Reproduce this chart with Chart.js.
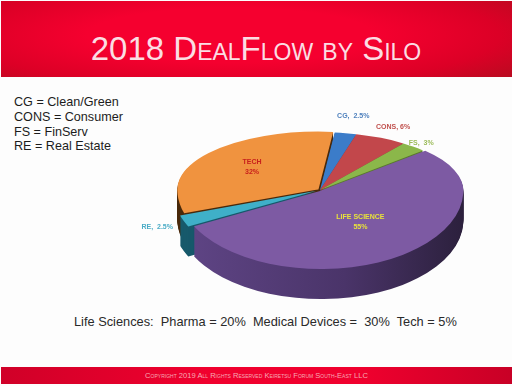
<!DOCTYPE html>
<html>
<head>
<meta charset="utf-8">
<script src="https://cdn.jsdelivr.net/npm/chart.js@4"></script>
<style>
  html, body { margin: 0; padding: 0; background: #fff; }
  #page { position: relative; width: 512px; height: 386px; overflow: hidden; font-family: "Liberation Sans", Arial, sans-serif; background: #fdfdfd; filter: blur(0.4px); }
  #banner { position: absolute; left: 1px; top: 1px; width: 511px; height: 76px; background: radial-gradient(ellipse 70% 90% at 45% 45%, #f5002f 40%, #dc0026 75%, #b80b20 100%); }
  #title { position: absolute; left: 0; top: 30px; width: 512px; text-align: center; font-size: 33px; line-height: 38px; color: #fbdde3; font-variant: small-caps; }
  #legend { position: absolute; left: 14px; top: 95px; font-size: 12.6px; line-height: 14.8px; color: #1c1c1c; }
  #note { position: absolute; left: 74px; top: 314px; font-size: 12.8px; line-height: 16px; color: #2a2a2a; white-space: pre; }
  #footer { position: absolute; left: 1px; top: 367px; width: 511px; height: 17px; background: linear-gradient(90deg, #d00028, #f0002e 40%, #f0002e 70%, #c80026); text-align: center; font-size: 7.6px; line-height: 17px; color: #f7a9b4; font-variant: small-caps; }
  canvas { position: absolute; left: 0; top: 0; }
</style>
</head>
<body>
<div id="page">
  <div id="banner"></div>
  <div id="title">2018 DealFlow by Silo</div>
  <div id="legend">CG = Clean/Green<br>CONS = Consumer<br>FS = FinServ<br>RE = Real Estate</div>
  <div id="note">Life Sciences:  Pharma = 20%  Medical Devices =  30%  Tech = 5%</div>
  <div id="footer">Copyright 2019 All Rights Reserved  Keiretsu Forum South-East LLC</div>
  <canvas id="grafica" width="512" height="386"></canvas>
</div>
<script>
// Datos
const categorias = ['CG', 'CONS', 'FS', 'LIFE SCIENCE', 'RE', 'TECH'];
const valores = [2.5, 6, 3, 55, 2.5, 32];
const etiquetas = ['CG,  2.5%', 'CONS, 6%', 'FS,  3%', 'LIFE SCIENCE|55%', 'RE,  2.5%', 'TECH|32%'];

// Estilo
const colores = ['#3b7cc9', '#c2474b', '#8bb74a', '#7d5aa3', '#3fb0c8', '#f0933f'];
const coloresLado = ['#26508a', '#7e2c30', '#5a7a2e', '#4d3770', '#17596b', '#4a2a0c'];
const coloresTexto = ['#4f81bd', '#c0504d', '#9bbb59', '#e8e23a', '#4bacc6', '#c8201c'];
const separacion = [0, 0, 0, 6, 14, 8];
// distancia de cada etiqueta al centro, relativa al radio
const distanciaEtiqueta = [1.3, 1.2, 1.08, 0.5, 1.25, 0.62];

const RADIO = 141;
const ELIPSE_ATRAS = 0.41;   // mitad de atras, mas plana por la perspectiva
const ELIPSE_FRENTE = 0.55;  // mitad de adelante
const PROFUNDIDAD = 30;

// Recorta una mitad (atras o frente) y deja el contexto aplastado
function aplicarMitad(ctx, cx, cy, d, frente) {
    ctx.beginPath();
    if (frente) ctx.rect(0, cy + d, 512, 386);
    else ctx.rect(0, 0, 512, cy + d);
    ctx.clip();
    ctx.translate(cx, cy + d);
    ctx.scale(1, frente ? ELIPSE_FRENTE : ELIPSE_ATRAS);
    ctx.translate(-cx, -cy);
}

// Dibuja el costado, la mitad de atras, y deja la de adelante a Chart.js
const pastel3d = {
    id: 'pastel3d',
    beforeDatasetsDraw(chart) {
        const ctx = chart.ctx;
        const arcos = chart.getDatasetMeta(0).data;
        const cx = arcos[0].x, cy = arcos[0].y;

        const ladoMorado = ctx.createLinearGradient(190, 0, 470, 0);
        ladoMorado.addColorStop(0, '#5e4484');
        ladoMorado.addColorStop(0.55, '#4a3469');
        ladoMorado.addColorStop(1, '#2a1f3a');

        const orden = [5, 0, 1, 2, 4, 3];
        for (let d = PROFUNDIDAD; d >= 1; d--) {
            [false, true].forEach(frente => {
                ctx.save();
                aplicarMitad(ctx, cx, cy, d, frente);
                orden.forEach(i => {
                    const lado = Object.create(arcos[i]);
                    lado.options = Object.assign({}, arcos[i].options, {
                        backgroundColor: i === 3 ? ladoMorado : coloresLado[i],
                        borderWidth: 0
                    });
                    lado.draw(ctx);
                });
                ctx.restore();
            });
        }

        ctx.save();
        aplicarMitad(ctx, cx, cy, 0, false);
        arcos.forEach(arco => arco.draw(ctx));
        ctx.restore();

        ctx.save();
        aplicarMitad(ctx, cx, cy, 0, true);
    },
    afterDatasetsDraw(chart) {
        const ctx = chart.ctx;
        ctx.restore();

        const arcos = chart.getDatasetMeta(0).data;
        ctx.save();
        ctx.textAlign = 'center';
        ctx.textBaseline = 'middle';
        ctx.font = 'bold 7px "Liberation Sans", Arial, sans-serif';
        arcos.forEach((arco, i) => {
            const medio = (arco.startAngle + arco.endAngle) / 2;
            const r = RADIO * distanciaEtiqueta[i];
            const seno = Math.sin(medio);
            const x = arco.x + Math.cos(medio) * r;
            const y = arco.y + seno * r * (seno > 0 ? ELIPSE_FRENTE : ELIPSE_ATRAS);
            ctx.fillStyle = coloresTexto[i];
            etiquetas[i].split('|').forEach((linea, n, todas) => {
                ctx.fillText(linea, x, y + (n - (todas.length - 1) / 2) * 10);
            });
        });
        ctx.restore();
    }
};

new Chart(document.getElementById('grafica').getContext('2d'), {
    type: 'pie',
    data: {
        labels: categorias,
        datasets: [{
            data: valores,
            backgroundColor: colores,
            borderWidth: 0,
            offset: separacion,
            clip: false
        }]
    },
    options: {
        responsive: false,
        animation: false,
        rotation: 6,
        radius: RADIO,
        layout: { padding: { left: 128, bottom: 6 } },
        plugins: { legend: { display: false }, tooltip: { enabled: false } }
    },
    plugins: [pastel3d]
});
</script>
</body>
</html>
